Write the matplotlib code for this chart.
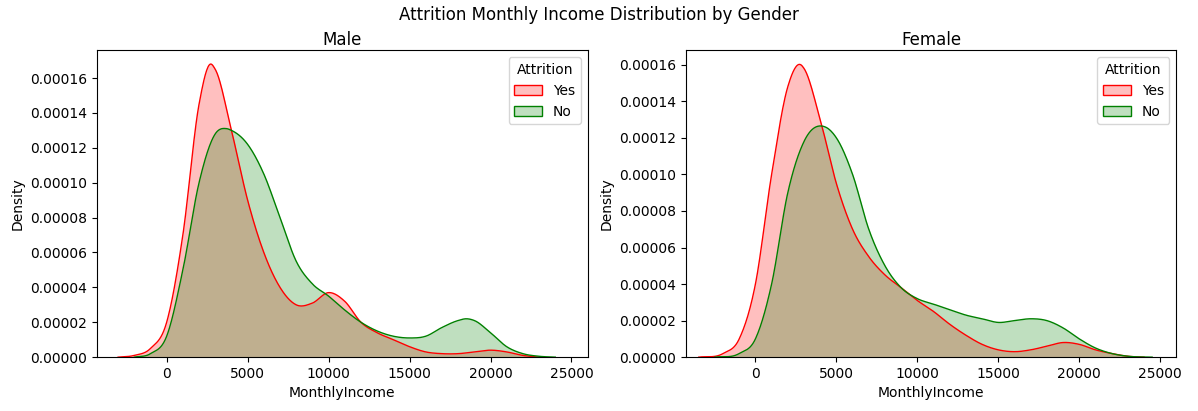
import numpy as np
import matplotlib.pyplot as plt
from matplotlib.patches import Patch

male_yes_x = [-3000,-2000,-1000,0,1000,2000,2700,3000,4000,5000,6000,7000,8000,9000,10000,11000,12000,13000,14000,15000,16000,17000,18000,19000,20000,21000,22000,23000]
male_yes_y = [0,1e-6,5e-6,2e-5,7e-5,1.45e-4,1.68e-4,1.65e-4,1.3e-4,9e-5,6e-5,4e-5,3e-5,3.1e-5,3.7e-5,3.2e-5,2e-5,1.4e-5,1e-5,6e-6,3e-6,2e-6,2e-6,3e-6,4e-6,3e-6,1e-6,0]
male_no_x = [-2000,-1000,0,1000,2000,3000,3700,4000,5000,6000,7000,8000,9000,10000,11000,12000,13000,14000,15000,16000,17000,18000,18500,19000,20000,21000,22000,23000,24000]
male_no_y = [0,2e-6,1.2e-5,5e-5,1e-4,1.28e-4,1.31e-4,1.3e-4,1.22e-4,1.05e-4,8e-5,5.5e-5,4.2e-5,3.5e-5,2.7e-5,2e-5,1.5e-5,1.2e-5,1.1e-5,1.2e-5,1.7e-5,2.1e-5,2.2e-5,2.1e-5,1.4e-5,6e-6,2e-6,5e-7,0]
fem_yes_x = [-3500,-2000,-1000,0,1000,2000,2800,3000,4000,5000,6000,7000,8000,9000,10000,11000,12000,13000,14000,15000,16000,17000,18000,19000,20000,21000,22000,23000,24000]
fem_yes_y = [0,2e-6,1e-5,4e-5,1e-4,1.48e-4,1.6e-4,1.58e-4,1.3e-4,9.5e-5,7e-5,5.5e-5,4.5e-5,3.8e-5,3.1e-5,2.5e-5,1.8e-5,1.2e-5,7e-6,4e-6,3e-6,4e-6,6e-6,8e-6,7e-6,4e-6,2e-6,5e-7,0]
fem_no_x = [-2500,-1000,0,1000,2000,3000,4300,5000,6000,7000,8000,9000,10000,11000,12000,13000,14000,15000,16000,17000,18000,19000,20000,21000,22000,23000,24500]
fem_no_y = [0,2e-6,1e-5,4e-5,9e-5,1.18e-4,1.26e-4,1.2e-4,1e-4,7e-5,5e-5,3.8e-5,3.2e-5,2.9e-5,2.6e-5,2.3e-5,2.1e-5,1.9e-5,2e-5,2.1e-5,2e-5,1.6e-5,1e-5,5e-6,2e-6,5e-7,0]

def smooth(x, y):
    x = np.asarray(x, float); y = np.asarray(y, float)
    xs = np.linspace(x[0], x[-1], 600)
    d = np.gradient(y, x)
    i = np.clip(np.searchsorted(x, xs) - 1, 0, len(x) - 2)
    h = x[i+1] - x[i]; t = (xs - x[i]) / h
    h00 = 2*t**3-3*t**2+1; h10 = t**3-2*t**2+t; h01 = -2*t**3+3*t**2; h11 = t**3-t**2
    ys = h00*y[i] + h10*h*d[i] + h01*y[i+1] + h11*h*d[i+1]
    return xs, np.clip(ys, 0, None)

fig, axes = plt.subplots(1, 2, figsize=(11.98, 4.11), dpi=100)
fig.subplots_adjust(left=0.081, right=0.982, top=0.878, bottom=0.131, wspace=0.2)
panels = [("Male", male_yes_x, male_yes_y, male_no_x, male_no_y, 1.76e-4),
          ("Female", fem_yes_x, fem_yes_y, fem_no_x, fem_no_y, 1.68e-4)]
for ax, (title, yx, yy, nx, ny, top) in zip(axes, panels):
    for x, y, c in [(yx, yy, "red"), (nx, ny, "green")]:
        xs, ys = smooth(x, y)
        ax.fill_between(xs, ys, color=c, alpha=0.25, linewidth=0)
        ax.plot(xs, ys, color=c, linewidth=1)
    ax.set_xlim(-4300, 26000)
    ax.set_ylim(0, top)
    ax.set_title(title, pad=4)
    ax.set_xlabel("MonthlyIncome")
    ax.set_ylabel("Density")
    handles = [Patch(facecolor=(1, 0, 0, 0.25), edgecolor="red", label="Yes"),
               Patch(facecolor=(0, 0.5, 0, 0.25), edgecolor="green", label="No")]
    ax.legend(handles=handles, title="Attrition", loc="upper right")
fig.suptitle("Attrition Monthly Income Distribution by Gender", y=0.985)
fig.savefig("out.png")
